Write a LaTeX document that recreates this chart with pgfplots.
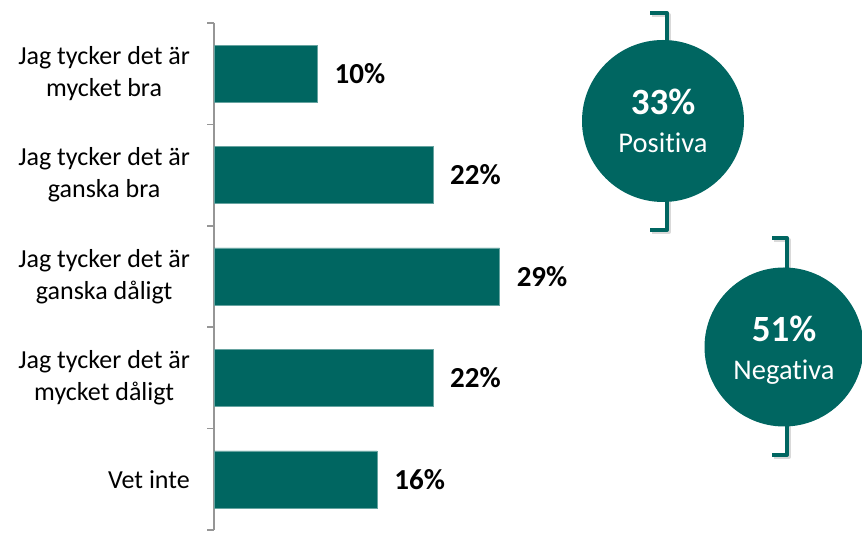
\documentclass[border=0pt]{standalone}
\usepackage{fontspec}
\setmainfont{Carlito}[Ligatures=NoCommon]
\usepackage{pgfplots}
\pgfplotsset{compat=1.18}

\definecolor{teal}{RGB}{0,102,97}
\definecolor{axgray}{RGB}{150,150,150}

\begin{document}
\begin{tikzpicture}[x=1pt,y=1pt]
\useasboundingbox (0,0) rectangle (862,534);
\begin{axis}[
    at={(214pt,4pt)}, anchor=south west,
    scale only axis, width=398pt, height=507pt,
    xbar, bar width=57pt,
    xmin=0, xmax=40,
    ymin=-0.5, ymax=4.5, y dir=reverse,
    axis x line=none, axis y line*=left,
    y axis line style={axgray, line width=1.5pt},
    ytick={0,1,2,3,4},
    yticklabels={{Jag tycker det är\\mycket bra},{Jag tycker det är\\ganska bra},{Jag tycker det är\\ganska dåligt},{Jag tycker det är\\mycket dåligt},{Vet inte}},
    major tick length=0pt,
    yticklabel style={align=center, inner sep=0pt, xshift=-24pt, font=\fontsize{26}{32}\selectfont},
    extra y ticks={-0.5,0.5,1.5,2.5,3.5,4.5},
    extra y tick labels={},
    extra y tick style={major tick length=7pt, tick align=outside, tick style={axgray, line width=1.5pt}},
    clip=false,
    point meta=x,
    nodes near coords={\pgfmathprintnumber[fixed,precision=0,assume math mode=true]{\pgfplotspointmeta}\%},
    nodes near coords style={anchor=west, inner sep=0pt, xshift=17pt, font=\fontsize{29}{34}\selectfont\bfseries},
]
\addplot[fill=teal, draw=teal!60] coordinates {(10.4,0) (22,1) (28.7,2) (22,3) (16.4,4)};
\end{axis}
% summary brackets and circles
\draw[black!15, line width=4pt, line join=round] (652,519) -- (669,519) -- (669,302) -- (652,302);
\draw[teal, line width=4pt, line join=round] (650,521) -- (667,521) -- (667,304) -- (650,304);
\fill[teal] (663,413) circle (81);
\node[white, anchor=base, inner sep=0pt, font=\fontsize{37}{40}\selectfont\bfseries] at (663,419) {33\%};
\node[white, anchor=base, inner sep=0pt, font=\fontsize{28.5}{32}\selectfont] at (663,381) {Positiva};
\draw[black!15, line width=4pt, line join=round] (774,294) -- (789,294) -- (789,77) -- (774,77);
\draw[teal, line width=4pt, line join=round] (772,296) -- (787,296) -- (787,79) -- (772,79);
\fill[teal] (784,187) circle (79.5);
\node[white, anchor=base, inner sep=0pt, font=\fontsize{37}{40}\selectfont\bfseries] at (784,192) {51\%};
\node[white, anchor=base, inner sep=0pt, font=\fontsize{28.5}{32}\selectfont] at (784,154) {Negativa};
\end{tikzpicture}
\end{document}
